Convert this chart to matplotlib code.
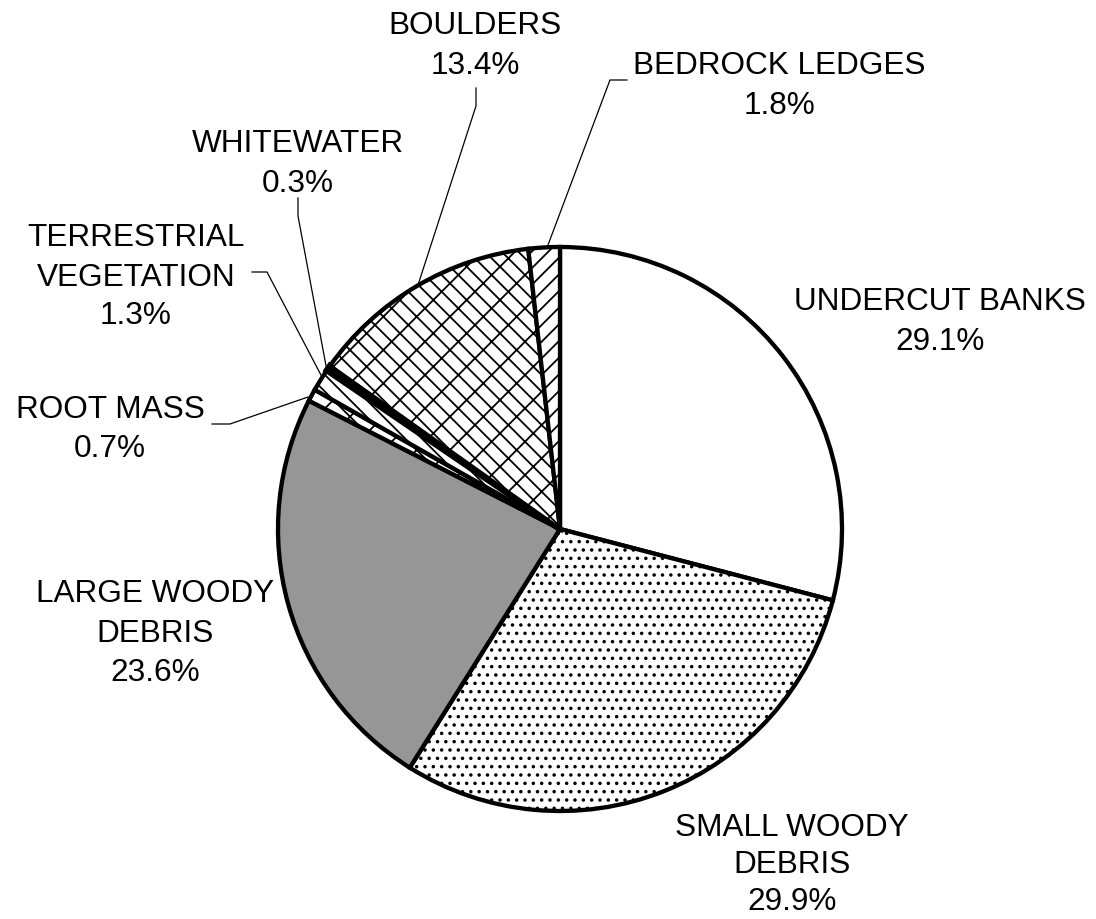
import matplotlib
matplotlib.use("Agg")
import matplotlib.pyplot as plt

plt.rcParams['font.family'] = ['Liberation Sans', 'DejaVu Sans']
plt.rcParams['hatch.linewidth'] = 1.3

# Cover types, clockwise from 12 o'clock
categories = ["UNDERCUT BANKS", "SMALL WOODY\nDEBRIS", "LARGE WOODY\nDEBRIS",
              "ROOT MASS", "TERRESTRIAL\nVEGETATION", "WHITEWATER",
              "BOULDERS", "BEDROCK LEDGES"]
percent = [29.1, 29.9, 23.6, 0.7, 1.3, 0.3, 13.4, 1.8]

faces = ["white", "white", "#969696", "white", "white", "black", "white", "white"]
hatches = [None, "..", None, "x", "\\\\", None, "x\\", "//"]

W, H = 1096, 920
fig = plt.figure(figsize=(W / 100, H / 100), dpi=100)
ax = fig.add_axes([0, 0, 1, 1])


def Y(y):
    return H - y


cx, cy, r = 560, 530, 282
wedges, _ = ax.pie(percent, center=(cx, Y(cy)), radius=r, startangle=90,
                   counterclock=False,
                   wedgeprops=dict(edgecolor="black", linewidth=3.1))
for w, fc, h in zip(wedges, faces, hatches):
    w.set_facecolor(fc)
    if h:
        w.set_hatch(h)
wedges[5].set_linewidth(4.5)

ax.set_xlim(0, W)
ax.set_ylim(0, H)
ax.set_aspect("equal")
ax.axis("off")

# label text: (x centre, y centres of each line)
label_pos = {
    "UNDERCUT BANKS": (940, [298, 338]),
    "SMALL WOODY\nDEBRIS": (792, [825, 862, 899]),
    "LARGE WOODY\nDEBRIS": (155, [590, 630, 670]),
    "ROOT MASS": (110, [406, 446]),
    "TERRESTRIAL\nVEGETATION": (136, [234, 274, 313]),
    "WHITEWATER": (298, [140, 180]),
    "BOULDERS": (475, [23, 62]),
    "BEDROCK LEDGES": (779, [62, 102]),
}
for name, val in zip(categories, percent):
    x, ys = label_pos[name]
    lines = name.split("\n") + [f"{val:.1f}%"]
    for line, yy in zip(lines, ys):
        ax.text(x, Y(yy), line, ha="center", va="center_baseline",
                fontsize=22.7, color="black")

# leader lines
leaders = [
    [(476, 89), (476, 107), (418, 286)],          # boulders
    [(627, 81), (610, 81), (548, 246)],           # bedrock ledges
    [(298, 199), (298, 217), (327, 372)],         # whitewater
    [(252, 273), (267, 273), (322, 378)],         # terrestrial vegetation
    [(212, 425), (230, 425), (308, 398)],         # root mass
]
for pts in leaders:
    xs = [p[0] for p in pts]
    ys = [Y(p[1]) for p in pts]
    ax.plot(xs, ys, color="black", linewidth=0.9, zorder=0.5)

fig.savefig("out.png", dpi=100, facecolor="white")
